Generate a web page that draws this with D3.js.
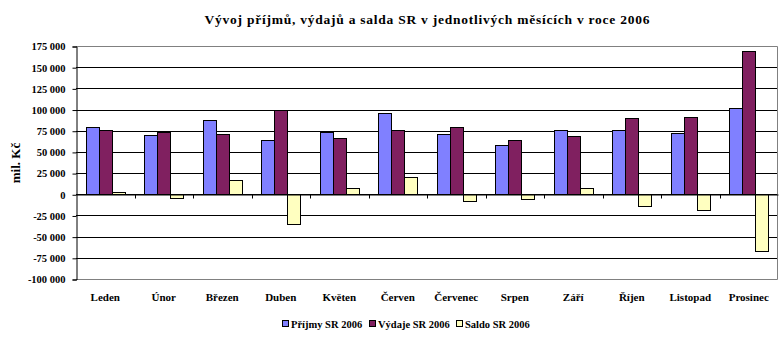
<!DOCTYPE html>
<html><head><meta charset="utf-8">
<script src="https://cdn.jsdelivr.net/npm/d3@7"></script>
<style>body{margin:0;background:#fff}svg{display:block}text{font-family:"Liberation Serif","Times New Roman",serif;font-weight:bold}</style>
</head><body>
<svg id="c" width="783" height="343"></svg>
<script>
const categories = ["Leden","Únor","Březen","Duben","Květen","Červen","Červenec","Srpen","Září","Říjen","Listopad","Prosinec"];
const prijmy = [79100, 70000, 87700, 63700, 73200, 95600, 70800, 57800, 75500, 75500, 72000, 101500];
const vydaje = [75900, 73800, 70800, 99500, 66100, 75500, 79100, 63700, 68400, 89700, 90900, 168700];
const saldo  = [3200, -4000, 16500, -35400, 7100, 20100, -8300, -5900, 7800, -14200, -18900, -67300];
const seriesNames = ["Příjmy SR 2006","Výdaje SR 2006","Saldo SR 2006"];
const colors = ["#8080FF","#802060","#FFFFC0"];
const yTicks = [-100000,-75000,-50000,-25000,0,25000,50000,75000,100000,125000,150000,175000];

const svg = d3.select("#c");
const L = 76, R = 778, T = 46, B = 279;
const x = d3.scaleBand().domain(categories).range([L, R]).paddingInner(0).paddingOuter(0);
const y = d3.scaleLinear().domain([-100000, 175000]).range([B, T]);
const fmt = v => d3.format(",")(v).replace(/,/g, " ").replace("−", "-");
const series = [prijmy, vydaje, saldo];

// gridlines
svg.append("g").selectAll("line").data(yTicks.filter(v => v !== 175000 && v !== -100000)).join("line")
  .attr("x1", L).attr("x2", R).attr("y1", d => Math.round(y(d)) + 0.5).attr("y2", d => Math.round(y(d)) + 0.5)
  .attr("stroke", "#000").attr("stroke-width", 1);
// plot border (gray)
svg.append("path").attr("d", `M${L},${T+0.5}H${R-0.5}V${B+0.5}H${L}`)
  .attr("fill", "none").attr("stroke", "#808080").attr("stroke-width", 1);

// bars
const bw = x.bandwidth() / 4.5;
const gx = d3.scaleBand().domain([0,1,2]).range([0, bw * 3]);
series.forEach((s, si) => {
  svg.append("g").selectAll("rect").data(s).join("rect")
    .attr("x", (d, i) => Math.round(x(categories[i]) + bw * 0.75 + gx(si)) + 0.5)
    .attr("width", Math.round(bw))
    .attr("y", d => Math.round(y(Math.max(0, d))) + 0.5)
    .attr("height", d => Math.abs(Math.round(y(d)) - Math.round(y(0))))
    .attr("fill", colors[si]).attr("stroke", "#000").attr("stroke-width", 1);
});

// y axis
const yAxis = d3.axisLeft(y).tickValues(yTicks).tickFormat(fmt).tickSize(4).tickPadding(6);
const ya = svg.append("g").attr("transform", `translate(${L + 0.5},0.5)`).call(yAxis);
ya.select(".domain").attr("stroke", "#000");
ya.selectAll("text").attr("font-size", 10.5).attr("font-family", "Liberation Serif").attr("font-weight", "bold").attr("fill", "#000").attr("dx", "-1");
ya.selectAll("line").attr("stroke", "#000");

// zero axis with category ticks
const xa = svg.append("g").attr("transform", `translate(0,${Math.round(y(0)) + 0.5})`)
  .call(d3.axisBottom(x).tickValues([]).tickSizeOuter(0));
xa.select(".domain").attr("stroke", "#000");
xa.selectAll(".bt").data(categories.slice(1)).join("line")
  .attr("x1", d => Math.round(x(d)) + 0.5).attr("x2", d => Math.round(x(d)) + 0.5)
  .attr("y1", 0).attr("y2", 4).attr("stroke", "#000");

// category labels
svg.append("g").selectAll("text").data(categories).join("text")
  .attr("x", d => x(d) + x.bandwidth() / 2).attr("y", 301)
  .attr("text-anchor", "middle").attr("font-size", 11).text(d => d);

// title
svg.append("text").attr("x", 427).attr("y", 24).attr("text-anchor", "middle")
  .attr("font-size", 13.5).attr("textLength", 445).attr("lengthAdjust", "spacing")
  .text("Vývoj příjmů, výdajů a salda SR v jednotlivých měsících v roce 2006");

// y title
svg.append("text").attr("transform", "translate(20,163) rotate(-90)").attr("text-anchor", "middle")
  .attr("font-size", 13).text("mil. Kč");

// legend
const lg = svg.append("g");
const lx = [282, 369, 456];
seriesNames.forEach((n, i) => {
  lg.append("rect").attr("x", lx[i] + 0.5).attr("y", 320.5).attr("width", 6).attr("height", 6)
    .attr("fill", colors[i]).attr("stroke", "#000");
  lg.append("text").attr("x", lx[i] + 9).attr("y", 328).attr("font-size", 10.5).text(n);
});
</script>
</body></html>
